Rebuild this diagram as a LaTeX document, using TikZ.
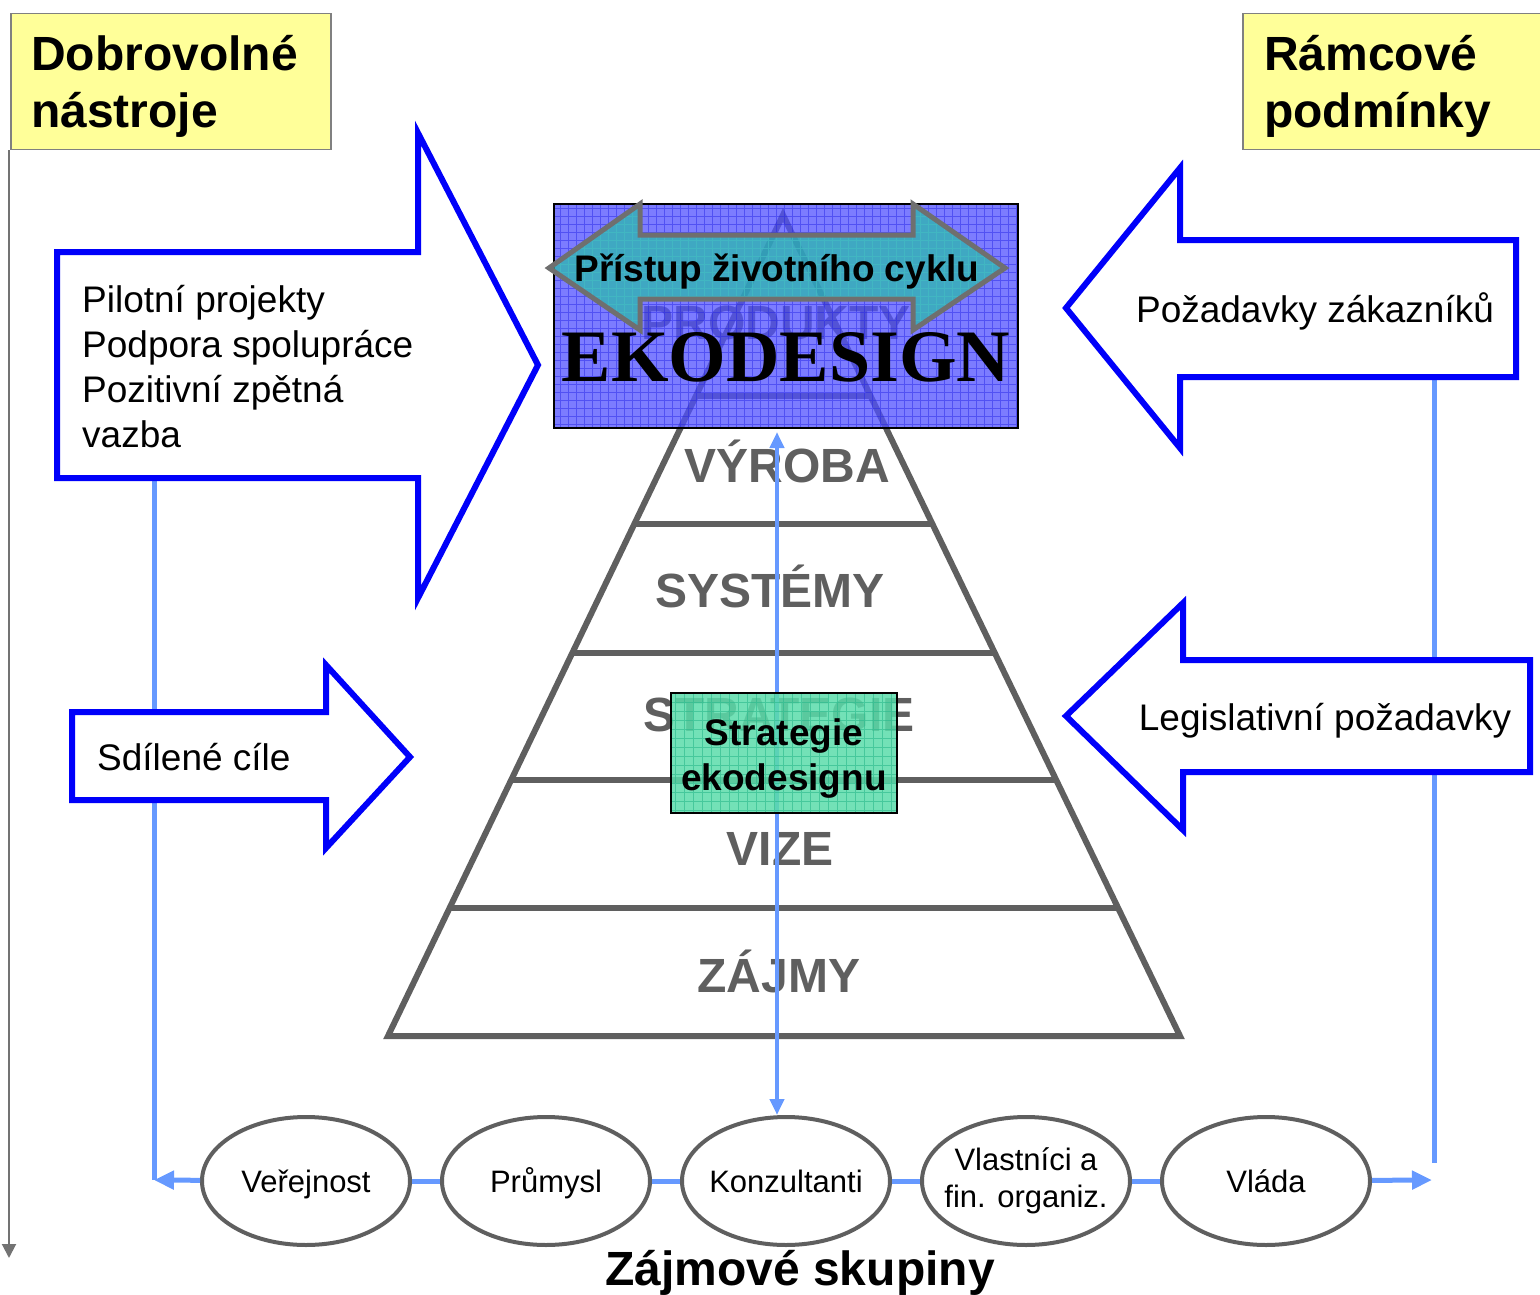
\documentclass[tikz,border=0pt]{standalone}
\usepackage{fontspec}
\setmainfont{Liberation Sans}
\newfontfamily\timesfont{Liberation Serif}
\usetikzlibrary{arrows.meta,shapes.geometric}
\definecolor{pgray}{RGB}{95,95,95}
\definecolor{boxgray}{RGB}{128,128,128}
\definecolor{arrblue}{RGB}{0,0,250}
\definecolor{lblue}{RGB}{102,153,255}
\definecolor{yfill}{RGB}{255,255,153}
\definecolor{bfill}{RGB}{80,80,255}
\definecolor{bgrid}{RGB}{30,30,230}
\definecolor{tfill}{RGB}{40,185,170}
\definecolor{tgrid}{RGB}{80,210,200}
\definecolor{mfill}{RGB}{90,220,170}
\definecolor{mgrid}{RGB}{40,185,140}
\begin{document}
\begin{tikzpicture}[x=1pt,y=-1pt,
  yellowbox/.style={fill=yfill, draw=boxgray, line width=1.5pt, inner sep=0pt, anchor=north west},
  blockarrow/.style={fill=white, draw=arrblue, line width=6pt, line join=miter},
  feedline/.style={draw=lblue, line width=5pt},
  feedarrow/.style={feedline, -{Triangle[length=20pt,width=18pt]}},
  pyr/.style={draw=pgray, line width=6pt, line join=miter},
  plabel/.style={text=pgray, font=\bfseries\fontsize{48}{57}\selectfont, inner sep=0pt, anchor=base},
  bigtitle/.style={font=\bfseries\fontsize{48}{57}\selectfont, inner sep=0pt, align=left, anchor=north west},
  txt/.style={font=\fontsize{37}{45}\selectfont, inner sep=0pt},
  group/.style={ellipse, draw=pgray, line width=4pt, minimum width=208pt, minimum height=128pt, inner xsep=-20pt, inner ysep=0pt, fill=white, font=\fontsize{31}{37}\selectfont, align=center},
  oneline/.style={text height=24pt, text depth=2pt},
]
\useasboundingbox (0,0) rectangle (1540,1295);

% yellow title boxes and axis
\node[yellowbox, minimum width=320pt, minimum height=136pt] (dob) at (10,13) {};
\node[bigtitle] (dobt) at (31,35) {Dobrovolné\\nástroje};
\node[yellowbox, minimum width=320pt, minimum height=136pt] (ram) at (1242,13) {};
\node[bigtitle] (ramt) at (1264,35) {Rámcové\\podmínky};
\coordinate (axisend) at (9,1258);
\draw[draw=boxgray!90!black, line width=2pt, -{Triangle[length=14pt,width=14pt]}] (dob.south west -| axisend) -- (axisend);

% coordinates for feedback lines
\coordinate (lefttop) at (154,478);
\coordinate (leftcorner) at (154,1180);
\coordinate (righttop) at (1434,377);
\coordinate (rightbot) at (1434,1163);
\coordinate (rightend) at (1432,1180);

\draw[feedline] (lefttop) -- (leftcorner);
\draw[feedline] (righttop) -- (rightbot);

% block arrows
\draw[blockarrow] (57,252) -- (418,252) -- (418,133) -- (538,365) -- (418,598) -- (418,478) -- (57,478) -- cycle;
\node[txt, align=left, anchor=north west] (pilot) at (82,285) {Pilotní projekty\\Podpora spolupráce\\Pozitivní zpětná\\vazba};
\draw[blockarrow] (72,712) -- (326,712) -- (326,665) -- (410,757) -- (326,848) -- (326,800) -- (72,800) -- cycle;
\node[txt, anchor=base west] (sdil) at (97,770) {Sdílené cíle};
\draw[blockarrow] (1516,240) -- (1180,240) -- (1180,168) -- (1066,308) -- (1180,448) -- (1180,377) -- (1516,377) -- cycle;
\node[txt, anchor=base] (zak) at (1315,322) {Požadavky zákazníků};
\draw[blockarrow] (1530,660) -- (1183,660) -- (1183,603) -- (1066,716) -- (1183,830) -- (1183,772) -- (1530,772) -- cycle;
\node[txt, anchor=base] (leg) at (1325,730) {Legislativní požadavky};

% pyramid
\draw[pyr] (783,215) -- (1180,1036) -- (388,1036) -- cycle;
\draw[pyr] (696,396) -- (870,396);
\draw[pyr] (634,524) -- (932,524);
\draw[pyr] (572,653) -- (995,653);
\draw[pyr] (511,780) -- (1056,780);
\draw[pyr] (450,908) -- (1118,908);
\node[plabel] (prod) at (776,339) {PRODUKTY};
\node[plabel] (vyr) at (787,482) {VÝROBA};
\node[plabel] (sys) at (770,607) {SYSTÉMY};
\node[plabel] (str) at (779,731) {STRATEGIE};
\node[plabel] (viz) at (780,865) {VIZE};
\node[plabel] (zaj) at (779,992) {ZÁJMY};

% ellipses (stakeholders)
\node[group, oneline] (ver) at (306,1181) {Veřejnost};
\node[group, oneline] (pru) at (546,1181) {Průmysl};
\node[group, oneline] (kon) at (786,1181) {Konzultanti};
\node[group] (vla) at (1026,1181) {Vlastníci a\\fin. organiz.};
\node[group, oneline] (vld) at (1266,1181) {Vláda};

% vertical double arrow
\coordinate (vtop) at (777,432);
\draw[draw=lblue, line width=4pt, {Triangle[length=16pt,width=14pt]}-{Triangle[length=16pt,width=14pt]}] (vtop) -- (vtop |- kon.north);

% blue EKODESIGN box
\fill[bfill, opacity=0.75] (554,204) rectangle (1018,428);
\begin{scope}
\clip (554,204) rectangle (1018,428);
\draw[bgrid, line width=0.8pt, opacity=0.45] (554,204) grid[step=8pt] (1018,428);
\end{scope}
\draw[black, line width=2pt] (554,204) rectangle (1018,428);

% life-cycle double arrow
\path[fill=tfill, opacity=0.72] (549,268) -- (640,204) -- (640,235) -- (913,235) -- (913,204) -- (1005,268) -- (913,330) -- (913,299) -- (640,299) -- (640,330) -- cycle;
\begin{scope}
\clip (549,268) -- (640,204) -- (640,235) -- (913,235) -- (913,204) -- (1005,268) -- (913,330) -- (913,299) -- (640,299) -- (640,330) -- cycle;
\draw[tgrid, line width=0.8pt, opacity=0.5] (540,200) grid[step=8pt] (1010,335);
\end{scope}
\draw[draw=pgray!90!white, line width=5pt, line join=miter] (549,268) -- (640,204) -- (640,235) -- (913,235) -- (913,204) -- (1005,268) -- (913,330) -- (913,299) -- (640,299) -- (640,330) -- cycle;
\node[font=\bfseries\fontsize{37}{45}\selectfont, inner sep=0pt, anchor=base] (cyk) at (777,281) {Přístup životního cyklu};

\node[font=\timesfont\bfseries\fontsize{74}{80}\selectfont, inner sep=0pt, anchor=base] (eko) at (786,381) {EKODESIGN};

% strategy box
\fill[mfill, opacity=0.85] (671,693) rectangle (897,813);
\begin{scope}
\clip (671,693) rectangle (897,813);
\draw[mgrid, line width=0.8pt, opacity=0.6] (671,693) grid[step=9pt] (897,813);
\end{scope}
\draw[black, line width=2pt] (671,693) rectangle (897,813);
\node[font=\bfseries\fontsize{37}{45}\selectfont, inner sep=0pt, align=center, anchor=north] (sek) at (784,718) {Strategie\\ekodesignu};

% connectors between stakeholders
\draw[feedarrow] (ver) -- (leftcorner);
\draw[feedline] (ver) -- (pru);
\draw[feedline] (pru) -- (kon);
\draw[feedline] (kon) -- (vla);
\draw[feedline] (vla) -- (vld);
\draw[feedarrow] (vld) -- (rightend);

\node[font=\bfseries\fontsize{48}{57}\selectfont, inner sep=0pt, anchor=base] (zs) at (800,1285) {Zájmové skupiny};
\end{tikzpicture}
\end{document}
